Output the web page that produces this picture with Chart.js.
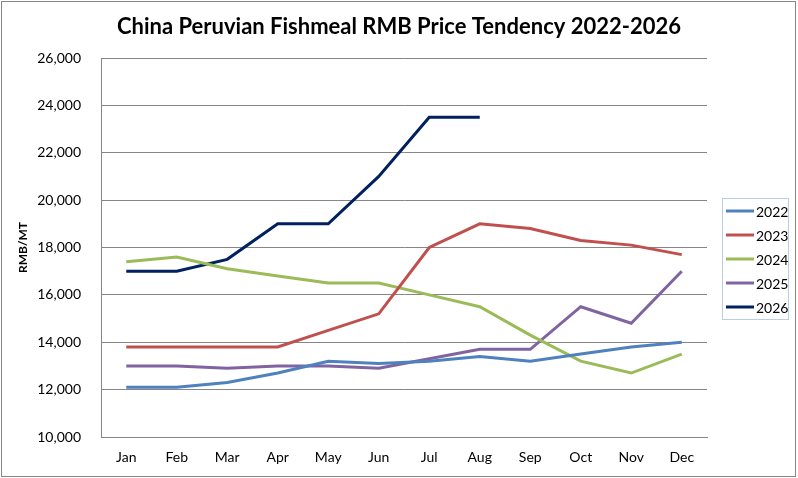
<!DOCTYPE html>
<html>
<head>
<meta charset="utf-8">
<script src="https://cdn.jsdelivr.net/npm/chart.js@4"></script>
<style>
html,body{margin:0;padding:0;background:#fff;}
#wrap{width:798px;height:478px;position:relative;}
</style>
</head>
<body>
<div id="wrap"><canvas id="c" width="798" height="478"></canvas></div>
<script>
const months = ['Jan','Feb','Mar','Apr','May','Jun','Jul','Aug','Sep','Oct','Nov','Dec'];
const seriesNames = ['2022','2023','2024','2025','2026'];
const s2022 = [12100,12100,12300,12700,13200,13100,13200,13400,13200,13500,13800,14000];
const s2023 = [13800,13800,13800,13800,14500,15200,18000,19000,18800,18300,18100,17700];
const s2024 = [17400,17600,17100,16800,16500,16500,16000,15500,14300,13200,12700,13500];
const s2025 = [13000,13000,12900,13000,13000,12900,13300,13700,13700,15500,14800,17000];
const s2026 = [17000,17000,17500,19000,19000,21000,23500,23500,null,null,null,null];
const yTicks = [10000,12000,14000,16000,18000,20000,22000,24000,26000];
const titleText = 'China Peruvian Fishmeal RMB Price Tendency 2022-2026';
const yTitle = 'RMB/MT';

const colors = ['#4F81BD','#C0504D','#9BBB59','#8064A2','#002060'];
const allSeries = [s2022,s2023,s2024,s2025,s2026];

const deco = {
  id:'deco',
  afterDraw(chart){
    const ctx = chart.ctx;
    ctx.save();
    ctx.strokeStyle = '#868686';
    ctx.lineWidth = 1;
    ctx.strokeRect(1.5,1.5,794,475);
    ctx.fillStyle = '#000';
    ctx.font = 'bold 22px Lato';
    ctx.textAlign = 'center';
    ctx.textBaseline = 'middle';
    ctx.fillText(titleText, 399, 27);
    const lx = 722, ly = 198, lw = 66, lh = 121;
    ctx.strokeStyle = '#B9CDE5';
    ctx.strokeRect(lx+0.5, ly+0.5, lw, lh);
    ctx.font = '14px Lato';
    ctx.textAlign = 'left';
    chart.data.datasets.forEach((ds,i)=>{
      const y = 211 + i*24;
      ctx.strokeStyle = ds.borderColor;
      ctx.lineWidth = 3;
      ctx.beginPath();
      ctx.moveTo(726,y);
      ctx.lineTo(754,y);
      ctx.stroke();
      ctx.fillStyle = '#000';
      ctx.fillText(ds.label, 756, y+1);
    });
    ctx.restore();
  }
};

new Chart(document.getElementById('c'), {
  type:'line',
  data:{
    labels: months,
    datasets: seriesNames.map((n,i)=>({
      label:n,
      data: allSeries[i],
      borderColor: colors[i],
      backgroundColor: colors[i],
      borderWidth: 3,
      pointRadius: 0,
      tension: 0,
      spanGaps: false
    }))
  },
  options:{
    responsive:false,
    animation:false,
    devicePixelRatio:1,
    layout:{padding:{top:58,right:91,bottom:0,left:0}},
    plugins:{legend:{display:false},title:{display:false},tooltip:{enabled:false}},
    scales:{
      x:{
        offset:true,
        grid:{display:false, drawTicks:false},
        border:{display:true,color:'#868686',width:1},
        ticks:{color:'#000',font:{family:'Lato',size:14},padding:12,maxRotation:0},
        afterFit(s){ s.height = 41; }
      },
      y:{
        min:10000,max:26000,
        afterBuildTicks(s){ s.ticks = yTicks.map(v=>({value:v})); },
        grid:{color:'#868686',drawTicks:false,lineWidth:1},
        border:{display:true,color:'#868686',width:1},
        ticks:{color:'#000',font:{family:'Lato',size:14},padding:20,
          callback:(v)=>v.toLocaleString('en-US')},
        title:{display:true,text:yTitle,color:'#000',font:{family:'Lato',size:12,weight:'bold'},padding:{top:16,bottom:0}},
        afterFit(s){ s.width = 101; }
      }
    }
  },
  plugins:[deco]
});
</script>
</body>
</html>
